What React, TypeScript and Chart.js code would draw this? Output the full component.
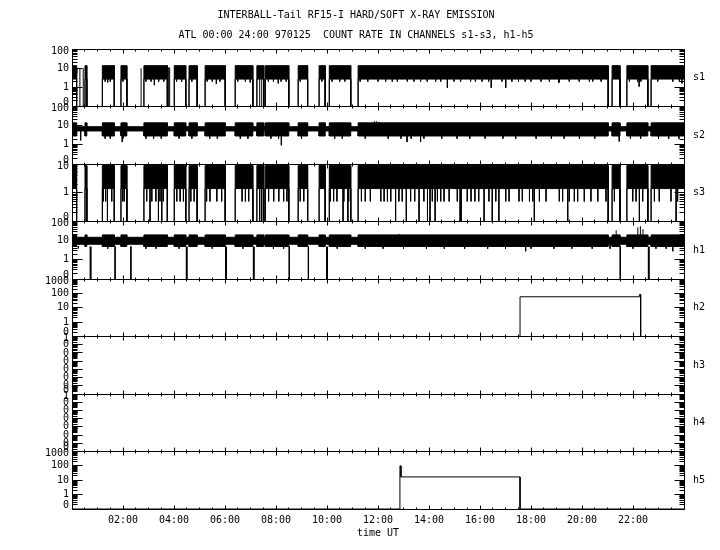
import React, { useEffect, useRef } from 'react';
import { Chart, registerables } from 'chart.js';

Chart.register(...registerables);

// ---------------- text ----------------
const TITLE_1 = 'INTERBALL-Tail RF15-I HARD/SOFT X-RAY EMISSION';
const TITLE_2 = 'ATL 00:00 24:00 970125  COUNT RATE IN CHANNELS s1-s3, h1-h5';
const X_TITLE = 'time UT';

// ---------------- panels ----------------
const panelNames = ['s1', 's2', 's3', 'h1', 'h2', 'h3', 'h4', 'h5'];
const panelMin = [0.1, 0.1, 0.1, 0.1, 0.1, 1e-7, 1e-7, 0.1];
const panelMax = [100, 100, 10, 100, 1000, 1, 1, 1000];
const ZERO = 0.1; // a count rate of 0 sits on the bottom line (labelled "0")

// x axis (hours UT)
const xTickHours = [2, 4, 6, 8, 10, 12, 14, 16, 18, 20, 22];
const xTickLabels = ['02:00', '04:00', '06:00', '08:00', '10:00', '12:00', '14:00', '16:00', '18:00', '20:00', '22:00'];

// ---------------- data ----------------
// intervals [start h, end h] when the soft channels are active
const activeIntervals: [number, number][] = [
  [0.0, 0.18], [0.51, 0.58], [1.19, 1.66], [1.92, 2.15], [2.82, 3.74], [4.01, 4.46],
  [4.59, 4.91], [5.22, 6.01], [6.4, 7.09], [7.25, 7.52], [7.58, 8.5], [8.87, 9.24],
  [9.69, 9.93], [10.09, 10.93], [11.22, 21.03], [21.18, 21.49], [21.76, 22.58], [22.71, 24.0],
];

// band levels [low, high] : active / quiet
const s1Active: [number, number] = [2.7, 13.5];
const s1Quiet: [number, number] = [ZERO, ZERO];
const s2Active: [number, number] = [2.9, 14];
const s2Quiet: [number, number] = [5.3, 8.8];
const s3Active: [number, number] = [1.4, 8.8];
const s3Quiet: [number, number] = [ZERO, ZERO];
const h1Active: [number, number] = [5.0, 20];
const h1Quiet: [number, number] = [6.5, 15];

// thin trace segments [t, from, to]
const s1Lines: [number, number, number][] = [
  [0.31, ZERO, 10], [0.44, ZERO, 10], [2.71, ZERO, 10], [3.78, ZERO, 11], [3.83, ZERO, 11],
  [7.36, ZERO, 3], [7.44, ZERO, 3],
  [1.4, 3, 1.8], [3.23, 3, 1.3], [5.66, 3, 1.5], [6.99, 3, 1.8], [8.09, 3, 1.6],
  [14.72, 3, 0.95], [16.44, 3, 0.95], [17.01, 3, 0.95], [19.09, 3, 1.7], [22.24, 3, 1.1], [23.92, 3, 1.6],
];
// short noise spikes under the s1 band
const s1Fringe: number[] = [
  1.3, 1.5, 2.0, 2.9, 3.1, 3.4, 3.6, 4.1, 4.3, 4.7, 5.3, 5.5, 5.8, 6.5, 6.8, 7.7, 7.9, 8.2, 8.4,
  8.95, 9.8, 10.2, 10.5, 10.7, 11.3, 11.6, 12.0, 12.3, 12.56, 12.76, 13.15, 13.41, 13.67, 13.93,
  14.26, 14.46, 14.98, 15.24, 15.63, 15.82, 16.08, 16.34, 16.86, 17.25, 17.51, 17.77, 18.0, 18.39,
  18.72, 19.11, 19.5, 19.89, 20.29, 20.42, 20.75, 21.86, 22.18, 22.31, 22.97, 23.56, 23.82,
];
const s1FringeLevel = 2.0;
const s2Lines: [number, number, number][] = [
  [0.34, 5.3, 1.7], [1.97, 3.2, 1.4], [8.21, 3.2, 0.95], [13.14, 3.2, 1.4], [13.67, 3.2, 1.4], [21.46, 5.3, 1.5],
  [11.86, 13, 17], [11.94, 13, 17], [12.04, 13, 16],
];
const s2Fringe: number[] = [
  1.3, 1.5, 2.0, 2.9, 3.2, 3.5, 4.2, 4.7, 5.4, 5.7, 6.6, 6.9, 7.8, 8.1, 9.0, 10.3, 10.6, 11.5,
  12.4, 12.9, 13.3, 13.8, 14.5, 15.1, 15.6, 16.2, 16.9, 17.4, 18.2, 18.8, 19.3, 19.9, 20.5, 21.9,
  22.3, 23.0, 23.4, 23.8,
];
const s2FringeLevel = 2.1;
const s3Drops: number[] = [
  1.39, 3.06, 3.39, 3.52, 7.36, 7.44, 10.63, 10.82, 12.69, 13.11, 13.61, 13.94, 14.04, 14.24,
  15.22, 15.26, 16.16, 16.48, 16.74, 18.13, 19.44, 22.25, 23.69,
];
const s3Teeth: number[] = [
  1.23, 1.32, 1.56, 1.99, 2.05, 2.93, 3.13, 3.29, 3.45, 3.58, 4.11, 4.24, 4.37, 4.66, 4.79,
  5.28, 5.41, 5.68, 5.87, 6.67, 6.8, 6.93, 7.71, 7.91, 8.11, 8.3, 8.43, 8.95, 9.09, 10.13,
  10.26, 10.39, 10.66, 10.85, 11.35, 11.5, 11.7, 12.11, 12.24, 12.37, 12.5, 12.82, 12.95,
  13.28, 13.44, 13.8, 14.13, 14.33, 14.46, 14.59, 14.79, 15.11, 15.5, 15.65, 15.8, 15.95,
  16.35, 16.62, 17.01, 17.14, 17.53, 17.66, 17.94, 18.07, 18.33, 18.59, 19.11, 19.24, 19.5,
  19.7, 19.83, 20.09, 20.35, 20.62, 20.94, 21.27, 21.99, 22.12, 22.38, 22.84, 23.03, 23.49, 23.75,
];
const s3TeethLevel = 0.5;
const h1DropsThin: number[] = [1.69, 2.31, 8.52, 9.27, 21.5];
const h1DropsThick: number[] = [0.73, 4.5, 6.04, 7.13, 10.0, 22.62];
const h1Lines: [number, number, number][] = [
  [0.25, 5.2, 4], [12.84, 19, 22], [17.79, 5.2, 2.8], [21.34, 19, 35], [22.19, 19, 50],
  [22.29, 19, 57], [22.39, 19, 40], [23.56, 5.2, 2.8],
];
const h1Fringe: number[] = [
  1.4, 2.9, 3.3, 4.2, 5.5, 6.7, 7.9, 8.3, 10.4, 11.5, 12.2, 13.0, 13.9, 14.6, 15.4, 16.3, 17.0,
  18.0, 18.9, 19.6, 20.4, 21.1, 22.0, 22.9, 23.3,
];
const h1FringeLevel = 3.8;
// step traces [t, value]
const h2Trace: [number, number][] = [
  [0, ZERO], [17.57, ZERO], [17.57, 58], [22.25, 58], [22.25, 84], [22.3, 84], [22.3, ZERO], [24, ZERO],
];
const h5Trace: [number, number][] = [
  [0, ZERO], [12.86, ZERO], [12.86, 100], [12.9, 100], [12.9, 17], [17.57, 17], [17.57, ZERO], [24, ZERO],
];

// ---------------- builders ----------------
type Pt = { x: number; y: number | null };
type Seg = [number, number, number];

function bandPoints(intervals: [number, number][], active: [number, number], quiet: [number, number]) {
  const upper: Pt[] = [];
  const lower: Pt[] = [];
  const push = (s: number, e: number, lv: [number, number]) => {
    upper.push({ x: s, y: lv[1] }, { x: e, y: lv[1] });
    lower.push({ x: s, y: lv[0] }, { x: e, y: lv[0] });
  };
  let t = 0;
  for (const [s, e] of intervals) {
    if (s > t) push(t, s, quiet);
    push(s, e, active);
    t = e;
  }
  if (t < 24) push(t, 24, quiet);
  return { upper, lower };
}

function segPoints(list: Seg[]): Pt[] {
  const pts: Pt[] = [];
  [...list].sort((a, b) => a[0] - b[0]).forEach(([t, a, b]) => {
    pts.push({ x: t, y: a }, { x: t, y: b }, { x: t, y: null });
  });
  return pts;
}

// band low edge at time t (active or quiet level)
function lowAt(t: number, active: [number, number], quiet: [number, number]) {
  return activeIntervals.some(([s, e]) => t >= s && t <= e) ? active[0] : quiet[0];
}

function tracePoints(list: [number, number][]): Pt[] {
  return list.map(([x, y]) => ({ x, y }));
}

const axisId = (name: string) => 'y' + panelNames.indexOf(name);

function lineDs(data: Pt[], panel: string, extra: Record<string, unknown> = {}) {
  return {
    type: 'line' as const,
    data,
    xAxisID: 'x',
    yAxisID: axisId(panel),
    borderColor: '#000',
    backgroundColor: '#000',
    borderWidth: 1,
    pointRadius: 0,
    pointHoverRadius: 0,
    fill: false,
    tension: 0,
    spanGaps: false,
    ...extra,
  };
}

function buildDatasets() {
  const ds: any[] = [];
  const band = (panel: string, active: [number, number], quiet: [number, number]) => {
    const { upper, lower } = bandPoints(activeIntervals, active, quiet);
    ds.push(lineDs(upper, panel));
    ds.push(lineDs(lower, panel, { fill: '-1' }));
  };
  const fringe = (panel: string, times: number[], active: [number, number], quiet: [number, number], level: number) =>
    ds.push(lineDs(segPoints(times.map((t) => [t, lowAt(t, active, quiet), level] as Seg)), panel));

  band('s1', s1Active, s1Quiet);
  ds.push(lineDs(segPoints(s1Lines), 's1'));
  fringe('s1', s1Fringe, s1Active, s1Quiet, s1FringeLevel);

  band('s2', s2Active, s2Quiet);
  ds.push(lineDs(segPoints(s2Lines), 's2'));
  fringe('s2', s2Fringe, s2Active, s2Quiet, s2FringeLevel);

  band('s3', s3Active, s3Quiet);
  ds.push(lineDs(segPoints(s3Drops.map((t) => [t, s3Active[0], ZERO] as Seg)), 's3'));
  ds.push(lineDs(segPoints(s3Teeth.map((t) => [t, s3Active[0], s3TeethLevel] as Seg)), 's3'));

  band('h1', h1Active, h1Quiet);
  ds.push(lineDs(segPoints(h1DropsThin.map((t) => [t, h1Active[0], ZERO] as Seg)), 'h1'));
  ds.push(lineDs(segPoints(h1DropsThick.map((t) => [t, h1Active[0], ZERO] as Seg)), 'h1', { borderWidth: 2 }));
  ds.push(lineDs(segPoints(h1Lines), 'h1'));
  fringe('h1', h1Fringe, h1Active, h1Quiet, h1FringeLevel);

  ds.push(lineDs(tracePoints(h2Trace), 'h2'));
  ds.push(lineDs(tracePoints(h5Trace), 'h5'));
  return ds;
}

// ---------------- frame plugin (inward ticks, labels, titles) ----------------
const FONT = '10px "DejaVu Sans Mono", monospace';

function tickLabel(v: number) {
  return v < 1 ? '0' : String(Math.round(v));
}

const framePlugin = {
  id: 'frame',
  afterDraw(chart: any) {
    const ctx: CanvasRenderingContext2D = chart.ctx;
    const area = chart.chartArea;
    const xs = chart.scales.x;
    const L = Math.floor(area.left) + 0.5;
    const R = Math.floor(area.right) + 0.5;
    ctx.save();
    ctx.strokeStyle = '#000';
    ctx.fillStyle = '#000';
    ctx.lineWidth = 1;
    ctx.font = FONT;

    panelNames.forEach((name, i) => {
      const s = chart.scales['y' + i];
      const T = Math.floor(s.top) + 0.5;
      const B = Math.floor(s.bottom) + 0.5;
      ctx.beginPath();
      ctx.rect(L, T, R - L, B - T);
      // x ticks every 30 min, long every 2 h
      for (let k = 1; k < 48; k++) {
        const x = Math.floor(xs.getPixelForValue(k * 0.5)) + 0.5;
        const len = k % 4 === 0 ? 4 : 2;
        ctx.moveTo(x, T);
        ctx.lineTo(x, T + len);
        ctx.moveTo(x, B);
        ctx.lineTo(x, B - len);
      }
      // y log ticks
      const d0 = Math.round(Math.log10(panelMin[i]));
      const d1 = Math.round(Math.log10(panelMax[i]));
      for (let d = d0; d <= d1; d++) {
        const v = Math.pow(10, d);
        const y = Math.floor(s.getPixelForValue(v)) + 0.5;
        ctx.moveTo(L, y);
        ctx.lineTo(L + 10, y);
        ctx.moveTo(R, y);
        ctx.lineTo(R - 10, y);
        if (d < d1) {
          for (let m = 2; m <= 9; m++) {
            const ym = Math.floor(s.getPixelForValue(v * m)) + 0.5;
            ctx.moveTo(L, ym);
            ctx.lineTo(L + 5, ym);
            ctx.moveTo(R, ym);
            ctx.lineTo(R - 5, ym);
          }
        }
      }
      ctx.stroke();
      // y tick labels
      ctx.textAlign = 'right';
      ctx.textBaseline = 'middle';
      for (let d = d0; d <= d1; d++) {
        const v = Math.pow(10, d);
        let y = s.getPixelForValue(v);
        if (d === d0) y -= 4;
        if (d === d1) y += 2;
        ctx.fillText(tickLabel(v), L - 3.5, y);
      }
      // panel name
      ctx.textAlign = 'left';
      ctx.fillText(name, 693, (s.top + s.bottom) / 2);
    });

    ctx.textAlign = 'center';
    ctx.textBaseline = 'middle';
    ctx.fillText(TITLE_1, 356, 15);
    ctx.fillText(TITLE_2, 356, 35);
    ctx.fillText(X_TITLE, (area.left + area.right) / 2, 533);
    ctx.restore();
  },
};

function buildScales() {
  const scales: any = {
    x: {
      type: 'linear',
      position: 'bottom',
      min: 0,
      max: 24,
      grid: { display: false, drawTicks: false },
      border: { display: false },
      ticks: {
        stepSize: 2,
        autoSkip: false,
        maxRotation: 0,
        padding: 5,
        color: '#000',
        font: { family: 'DejaVu Sans Mono', size: 10 },
        callback: (v: number) => {
          const i = xTickHours.indexOf(v);
          return i >= 0 ? xTickLabels[i] : '';
        },
      },
      afterFit: (s: any) => {
        s.height = 41;
      },
    },
  };
  // left boxes are laid out in reverse definition order: define bottom panel first
  for (let i = panelNames.length - 1; i >= 0; i--) {
    scales['y' + i] = {
      type: 'logarithmic',
      position: 'left',
      stack: 'panels',
      stackWeight: 1,
      min: panelMin[i],
      max: panelMax[i],
      grid: { display: false, drawTicks: false },
      border: { display: false },
      ticks: { display: false },
      afterFit: (s: any) => {
        s.width = 72;
      },
    };
  }
  return scales;
}

export default function App() {
  const ref = useRef<HTMLCanvasElement>(null);
  useEffect(() => {
    if (!ref.current) return;
    const chart = new Chart(ref.current, {
      type: 'line',
      data: { datasets: buildDatasets() },
      options: {
        animation: false,
        responsive: false,
        devicePixelRatio: 1,
        events: [],
        layout: { padding: { top: 49, right: 36, left: 0, bottom: 0 } },
        plugins: { legend: { display: false }, tooltip: { enabled: false }, title: { display: false } },
        scales: buildScales(),
      },
      plugins: [framePlugin],
    } as any);
    return () => chart.destroy();
  }, []);
  return (
    <div style={{ position: 'absolute', left: 0, top: 0, width: 720, height: 550, background: '#fff' }}>
      <canvas ref={ref} width={720} height={550} style={{ display: 'block', width: 720, height: 550 }} />
    </div>
  );
}
